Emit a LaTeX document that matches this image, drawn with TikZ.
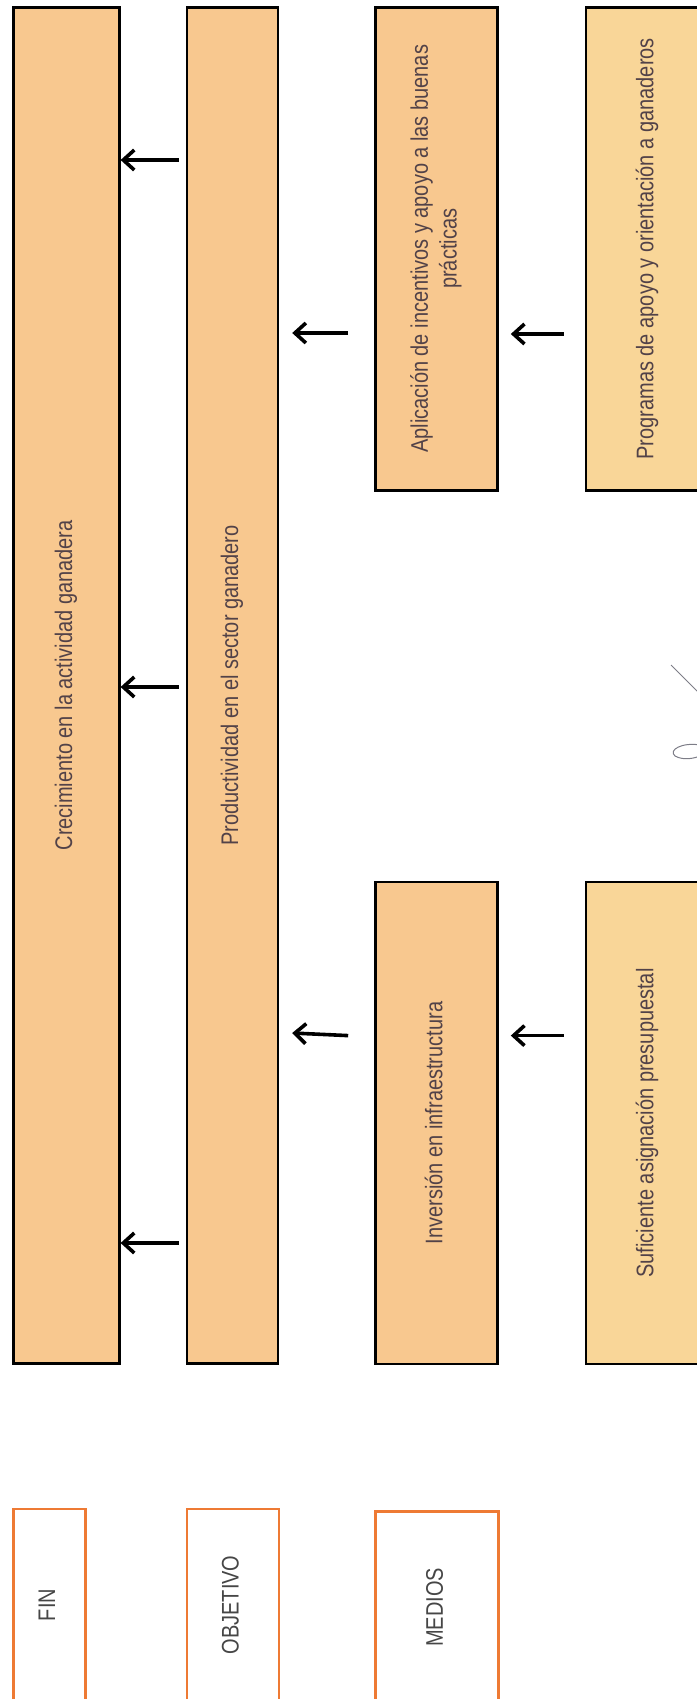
\documentclass[tikz,border=0pt]{standalone}
\usepackage{fontspec}
\setmainfont{Liberation Sans}
\usepackage{graphicx}
\usetikzlibrary{arrows.meta,positioning}
\definecolor{boxfill}{RGB}{248,200,143}
\definecolor{boxfillb}{RGB}{249,214,152}
\definecolor{txtgray}{RGB}{82,66,72}
\definecolor{lblorange}{RGB}{238,122,52}
\definecolor{lblgray}{RGB}{70,70,70}
\definecolor{scribble}{RGB}{125,125,135}
\newcommand{\vtext}[1]{\rotatebox{90}{\scalebox{1}[1.2]{\begin{tabular}{@{}c@{}}#1\end{tabular}}}}
\tikzset{
  blk/.style={draw=black, line width=2.6pt, fill=boxfill, inner sep=0pt,
              text=txtgray, font=\fontsize{20}{24}\selectfont},
  lbl/.style={draw=lblorange, line width=2.6pt, fill=white, inner sep=0pt,
              minimum height=192pt, text=lblgray, font=\fontsize{20}{24}\selectfont},
  goalarr/.style={-{Straight Barb[length=11pt,width=20pt]}, line width=3.6pt, black},
}

\begin{document}
\begin{tikzpicture}[x=1pt,y=1pt]
  \useasboundingbox (0,0) rectangle (696,-1699);
  % fin y objetivo
  \node[blk, minimum width=106pt, minimum height=1356pt, anchor=north west] (fin) at (12,-6)
       {\vtext{Crecimiento en la actividad ganadera}};
  \node[blk, minimum width=91pt, minimum height=1356pt, right=65pt of fin.north east, anchor=north west] (obj)
       {\vtext{Productividad en el sector ganadero}};
  % medios
  \node[blk, minimum width=122pt, minimum height=483pt, right=95pt of obj.north east, anchor=north west] (incent)
       {\vtext{Aplicación de incentivos y apoyo a las buenas\\prácticas}};
  \node[blk, minimum width=122pt, minimum height=482pt, below=389pt of incent] (infra)
       {\vtext{Inversión en infraestructura}};
  \node[blk, fill=boxfillb, minimum width=123pt, minimum height=483pt, right=86pt of incent.north east, anchor=north west] (prog)
       {\vtext{Programas de apoyo y orientación a ganaderos}};
  \node[blk, fill=boxfillb, minimum width=123pt, minimum height=482pt, below=389pt of prog] (presup)
       {\vtext{Suficiente asignación presupuestal}};
  % etiquetas
  \node[lbl, minimum width=72pt, below=143pt of fin.south west, anchor=north west] (lfin) {\vtext{FIN}};
  \node[lbl, minimum width=92pt, below=143pt of obj.south west, anchor=north west] (lobj) {\vtext{OBJETIVO}};
  \node[lbl, minimum width=123pt, below=145pt of infra.south west, anchor=north west] (lmed) {\vtext{MEDIOS}};
  % flechas
  \foreach \y in {154,681,1237}
    \draw[goalarr] ([shift={(-7,-\y)}]obj.north west) -- ([yshift=-\y]fin.north east);
  \draw[goalarr] ([shift={(-26,-327)}]incent.north west) -- ([shift={(13,-327)}]obj.north east);
  \draw[goalarr] ([shift={(-26,-155)}]infra.north west) -- ([shift={(13,-1027)}]obj.north east);
  \draw[goalarr] ([shift={(-21,-328)}]prog.north west) -- ([shift={(12,-328)}]incent.north east);
  \draw[goalarr] ([shift={(-21,-155)}]presup.north west) -- ([shift={(12,-155)}]infra.north east);
  % trazo suelto
  \draw[scribble, line width=1pt] (671,-665) -- (700,-694);
  \draw[scribble, line width=1pt] (700,-745) .. controls (682,-742) and (668,-750) .. (675,-756)
        .. controls (684,-761) and (695,-758) .. (700,-756);
\end{tikzpicture}
\end{document}
